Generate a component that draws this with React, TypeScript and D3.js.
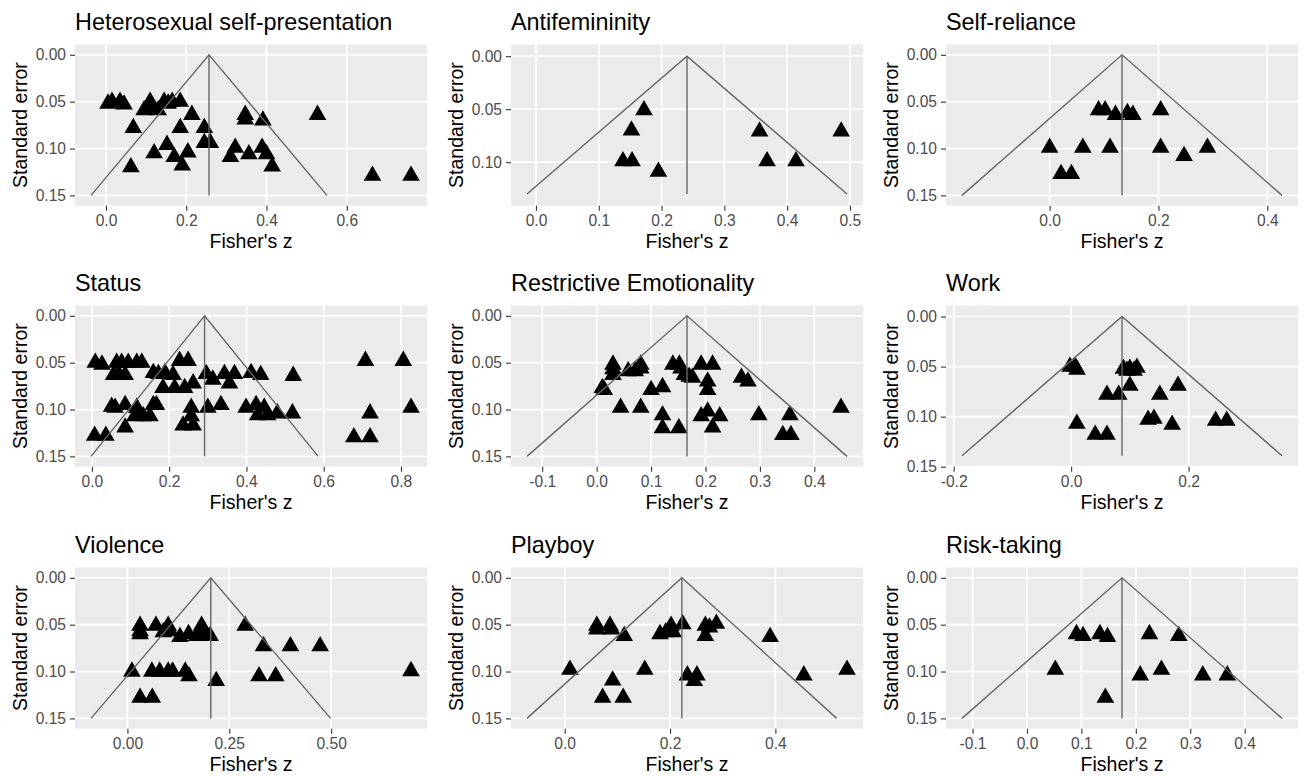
import React, { useRef, useEffect } from 'react';
import * as d3 from 'd3';

// [Fisher's z, standard error]
const heterosexualPoints: [number, number][] = [
  [0.005, 0.052], [0.015, 0.050], [0.035, 0.050], [0.045, 0.053],
  [0.095, 0.059], [0.11, 0.050], [0.105, 0.056], [0.12, 0.058], [0.13, 0.059],
  [0.145, 0.050], [0.155, 0.052], [0.165, 0.050], [0.185, 0.050],
  [0.214, 0.064], [0.068, 0.078], [0.185, 0.078], [0.245, 0.078],
  [0.347, 0.064], [0.347, 0.069], [0.391, 0.070], [0.527, 0.064],
  [0.245, 0.094], [0.26, 0.094], [0.152, 0.096], [0.12, 0.105], [0.17, 0.109],
  [0.204, 0.104], [0.19, 0.118], [0.062, 0.120],
  [0.322, 0.099], [0.31, 0.109], [0.356, 0.106], [0.389, 0.099], [0.40, 0.106],
  [0.414, 0.119], [0.664, 0.129], [0.76, 0.129],
];

const antifemininityPoints: [number, number][] = [
  [0.172, 0.051], [0.152, 0.070], [0.1385, 0.099], [0.153, 0.099], [0.195, 0.109],
  [0.356, 0.071], [0.368, 0.099], [0.414, 0.099], [0.486, 0.071],
];

const selfReliancePoints: [number, number][] = [
  [0.090, 0.059], [0.102, 0.059], [0.121, 0.064], [0.143, 0.062], [0.153, 0.064],
  [0.204, 0.059], [0.0, 0.099], [0.061, 0.099], [0.111, 0.099], [0.204, 0.099],
  [0.247, 0.108], [0.290, 0.099], [0.021, 0.127], [0.040, 0.127],
];

const statusPoints: [number, number][] = [
  [0.0086, 0.050], [0.026, 0.052], [0.064, 0.050], [0.077, 0.050], [0.094, 0.050],
  [0.116, 0.050], [0.129, 0.050], [0.227, 0.048], [0.249, 0.048], [0.708, 0.048], [0.806, 0.048],
  [0.056, 0.063], [0.069, 0.062], [0.086, 0.063],
  [0.159, 0.061], [0.172, 0.062], [0.189, 0.061], [0.21, 0.063],
  [0.296, 0.062], [0.313, 0.068], [0.343, 0.062], [0.369, 0.062], [0.356, 0.072],
  [0.412, 0.061], [0.437, 0.063], [0.521, 0.064],
  [0.184, 0.077], [0.214, 0.077], [0.240, 0.077], [0.262, 0.072],
  [0.051, 0.097], [0.060, 0.098], [0.086, 0.095], [0.116, 0.098], [0.111, 0.107],
  [0.133, 0.107], [0.150, 0.107], [0.159, 0.095], [0.167, 0.095],
  [0.257, 0.098], [0.257, 0.107], [0.236, 0.117], [0.262, 0.117], [0.30, 0.098], [0.334, 0.095],
  [0.399, 0.098], [0.425, 0.095], [0.446, 0.098], [0.429, 0.106], [0.455, 0.106],
  [0.48, 0.104], [0.519, 0.104], [0.72, 0.104], [0.826, 0.098],
  [0.007, 0.128], [0.036, 0.128], [0.086, 0.119], [0.678, 0.1295], [0.72, 0.1295],
];

const restrictivePoints: [number, number][] = [
  [0.030, 0.052], [0.030, 0.057], [0.030, 0.063], [0.0105, 0.077], [0.014, 0.079],
  [0.058, 0.059], [0.071, 0.059], [0.081, 0.052], [0.081, 0.056], [0.10, 0.079],
  [0.121, 0.076], [0.044, 0.098], [0.081, 0.098],
  [0.14, 0.052], [0.152, 0.052], [0.155, 0.056], [0.161, 0.063], [0.170, 0.065],
  [0.176, 0.066], [0.192, 0.052], [0.213, 0.052], [0.204, 0.070], [0.204, 0.079],
  [0.266, 0.066], [0.278, 0.070],
  [0.121, 0.106], [0.121, 0.120], [0.151, 0.120], [0.192, 0.107], [0.204, 0.102],
  [0.226, 0.107], [0.213, 0.119], [0.298, 0.106], [0.355, 0.106], [0.342, 0.127],
  [0.357, 0.127], [0.449, 0.098],
];

const workPoints: [number, number][] = [
  [-0.002, 0.050], [0.007, 0.050], [0.010, 0.053], [0.089, 0.052], [0.10, 0.052],
  [0.112, 0.051], [0.095, 0.054], [0.107, 0.054], [0.10, 0.069], [0.061, 0.078],
  [0.081, 0.078], [0.151, 0.078], [0.182, 0.069], [0.0097, 0.107], [0.041, 0.118],
  [0.061, 0.118], [0.131, 0.103], [0.141, 0.102], [0.172, 0.108], [0.246, 0.104], [0.265, 0.104],
];

const violencePoints: [number, number][] = [
  [0.031, 0.051], [0.031, 0.057], [0.031, 0.060], [0.070, 0.051], [0.088, 0.058],
  [0.10, 0.051], [0.105, 0.057], [0.129, 0.063], [0.15, 0.060], [0.17, 0.062],
  [0.182, 0.051], [0.187, 0.058], [0.203, 0.062], [0.289, 0.051], [0.334, 0.073],
  [0.40, 0.073], [0.473, 0.073],
  [0.011, 0.100], [0.06, 0.100], [0.079, 0.100], [0.10, 0.100], [0.111, 0.100],
  [0.142, 0.100], [0.151, 0.105], [0.218, 0.110], [0.323, 0.105], [0.364, 0.105],
  [0.031, 0.128], [0.061, 0.128], [0.696, 0.0995],
];

const playboyPoints: [number, number][] = [
  [0.061, 0.051], [0.061, 0.055], [0.086, 0.051], [0.089, 0.055], [0.113, 0.062],
  [0.181, 0.060], [0.192, 0.058], [0.202, 0.051], [0.206, 0.058], [0.224, 0.0495],
  [0.267, 0.051], [0.275, 0.053], [0.267, 0.062], [0.288, 0.049], [0.39, 0.063],
  [0.010, 0.098], [0.152, 0.098], [0.091, 0.1095], [0.072, 0.128], [0.111, 0.128],
  [0.233, 0.104], [0.251, 0.104], [0.246, 0.110], [0.454, 0.104], [0.536, 0.098],
];

const riskPoints: [number, number][] = [
  [0.091, 0.060], [0.103, 0.062], [0.134, 0.060], [0.148, 0.063], [0.225, 0.060],
  [0.279, 0.062], [0.052, 0.098], [0.144, 0.128], [0.208, 0.104], [0.247, 0.098],
  [0.323, 0.104], [0.368, 0.104],
];

const titles = [
  'Heterosexual self-presentation', 'Antifemininity', 'Self-reliance',
  'Status', 'Restrictive Emotionality', 'Work',
  'Violence', 'Playboy', 'Risk-taking',
];
// pooled estimate (funnel apex) and largest SE of the funnel
const pooledZ = [0.2567, 0.2405, 0.133, 0.2916, 0.166, 0.0866, 0.2046, 0.2224, 0.1746];
const funnelSE = [0.15, 0.13, 0.15, 0.15, 0.15, 0.139, 0.15, 0.15, 0.15];
const xTickValues = [
  [0, 0.2, 0.4, 0.6],
  [0, 0.1, 0.2, 0.3, 0.4, 0.5],
  [0, 0.2, 0.4],
  [0, 0.2, 0.4, 0.6, 0.8],
  [-0.1, 0, 0.1, 0.2, 0.3, 0.4],
  [-0.2, 0, 0.2],
  [0, 0.25, 0.5],
  [0, 0.2, 0.4],
  [-0.1, 0, 0.1, 0.2, 0.3, 0.4],
];
const xTickDigits = [1, 1, 1, 1, 1, 1, 2, 1, 1];
const yTickValues = [0, 0.05, 0.1, 0.15];
const allPoints = [
  heterosexualPoints, antifemininityPoints, selfReliancePoints,
  statusPoints, restrictivePoints, workPoints,
  violencePoints, playboyPoints, riskPoints,
];

const WIDTH = 1306;
const HEIGHT = 776;
const COL_X = [0, 436, 871];
const ROW_Y = [0, 261, 523];
const PANEL = { left: 75, right: 427, top: 44.5, bottom: 205.7 };
const FONT = '"Liberation Sans", Arial, Helvetica, sans-serif';

// R prints a plain hyphen for negatives
const fmt = (digits: number) => (v: d3.NumberValue) => (+v).toFixed(digits);

const FunnelGrid = () => {
  const svgRef = useRef<SVGSVGElement>(null);

  useEffect(() => {
    const svg = d3.select(svgRef.current);
    svg.selectAll('*').remove();

    titles.forEach((title, i) => {
      const points = allPoints[i];
      const center = pooledZ[i];
      const maxSE = funnelSE[i];
      const half = 1.96 * maxSE;

      const g = svg.append('g')
        .attr('transform', `translate(${COL_X[i % 3]}, ${ROW_Y[Math.floor(i / 3)]})`);

      // domains as ggplot would: 5% on x, small pad on se
      const lo = Math.min(center - half, d3.min(points, d => d[0]) as number);
      const hi = Math.max(center + half, d3.max(points, d => d[0]) as number);
      const pad = (hi - lo) * 0.05;
      const x = d3.scaleLinear().domain([lo - pad, hi + pad]).range([PANEL.left, PANEL.right]);
      const y = d3.scaleLinear().domain([-0.011, maxSE + 0.011]).range([PANEL.top, PANEL.bottom]);

      g.append('rect')
        .attr('x', PANEL.left)
        .attr('y', PANEL.top)
        .attr('width', PANEL.right - PANEL.left)
        .attr('height', PANEL.bottom - PANEL.top)
        .attr('fill', '#EBEBEB');

      const yTicks = yTickValues.filter(v => v <= y.domain()[1]);
      const xTicks = xTickValues[i];

      // grid
      g.selectAll('.gx')
        .data(xTicks)
        .enter()
        .append('line')
        .attr('x1', d => x(d)).attr('x2', d => x(d))
        .attr('y1', PANEL.top).attr('y2', PANEL.bottom)
        .attr('stroke', 'white')
        .attr('stroke-width', 1.7);
      g.selectAll('.gy')
        .data(yTicks)
        .enter()
        .append('line')
        .attr('x1', PANEL.left).attr('x2', PANEL.right)
        .attr('y1', d => y(d)).attr('y2', d => y(d))
        .attr('stroke', 'white')
        .attr('stroke-width', 1.7);

      // axes
      const xAxis = g.append('g')
        .attr('transform', `translate(0, ${PANEL.bottom})`)
        .call(d3.axisBottom(x).tickValues(xTicks).tickFormat(fmt(xTickDigits[i])).tickSize(5).tickPadding(4));
      const yAxis = g.append('g')
        .attr('transform', `translate(${PANEL.left}, 0)`)
        .call(d3.axisLeft(y).tickValues(yTicks).tickFormat(fmt(2)).tickSize(5).tickPadding(4));
      [xAxis, yAxis].forEach(ax => {
        ax.select('.domain').remove();
        ax.selectAll('line').attr('stroke', '#333333').attr('stroke-width', 1.1);
        ax.selectAll('text')
          .attr('fill', '#4D4D4D')
          .style('font-family', FONT)
          .style('font-size', '15.6px');
      });

      // studies
      g.selectAll('.pt')
        .data(points)
        .enter()
        .append('path')
        .attr('transform', d => `translate(${x(d[0])}, ${y(d[1])})`)
        .attr('d', d3.symbol(d3.symbolTriangle, 135)())
        .attr('fill', 'black');

      // funnel
      const funnel = d3.line<[number, number]>()
        .x(d => x(d[0]))
        .y(d => y(d[1]));
      g.append('path')
        .attr('d', funnel([[center - half, maxSE], [center, 0], [center + half, maxSE]]))
        .attr('fill', 'none')
        .attr('stroke', '#666666')
        .attr('stroke-width', 1.4);
      g.append('path')
        .attr('d', funnel([[center, 0], [center, maxSE]]))
        .attr('fill', 'none')
        .attr('stroke', '#666666')
        .attr('stroke-width', 1.4);

      // labels
      g.append('text')
        .attr('x', PANEL.left)
        .attr('y', 30)
        .style('font-family', FONT)
        .style('font-size', '23.4px')
        .attr('fill', 'black')
        .text(title);
      g.append('text')
        .attr('x', (PANEL.left + PANEL.right) / 2)
        .attr('y', 248)
        .attr('text-anchor', 'middle')
        .style('font-family', FONT)
        .style('font-size', '19.5px')
        .attr('fill', 'black')
        .text("Fisher's z");
      g.append('text')
        .attr('transform', `translate(27, ${(PANEL.top + PANEL.bottom) / 2}) rotate(-90)`)
        .attr('text-anchor', 'middle')
        .style('font-family', FONT)
        .style('font-size', '19.5px')
        .attr('fill', 'black')
        .text('Standard error');
    });
  }, []);

  return (
    <svg
      ref={svgRef}
      width={WIDTH}
      height={HEIGHT}
      style={{ position: 'absolute', left: 0, top: 0, background: 'white' }}
    />
  );
};

export default function App() {
  return <FunnelGrid />;
}
